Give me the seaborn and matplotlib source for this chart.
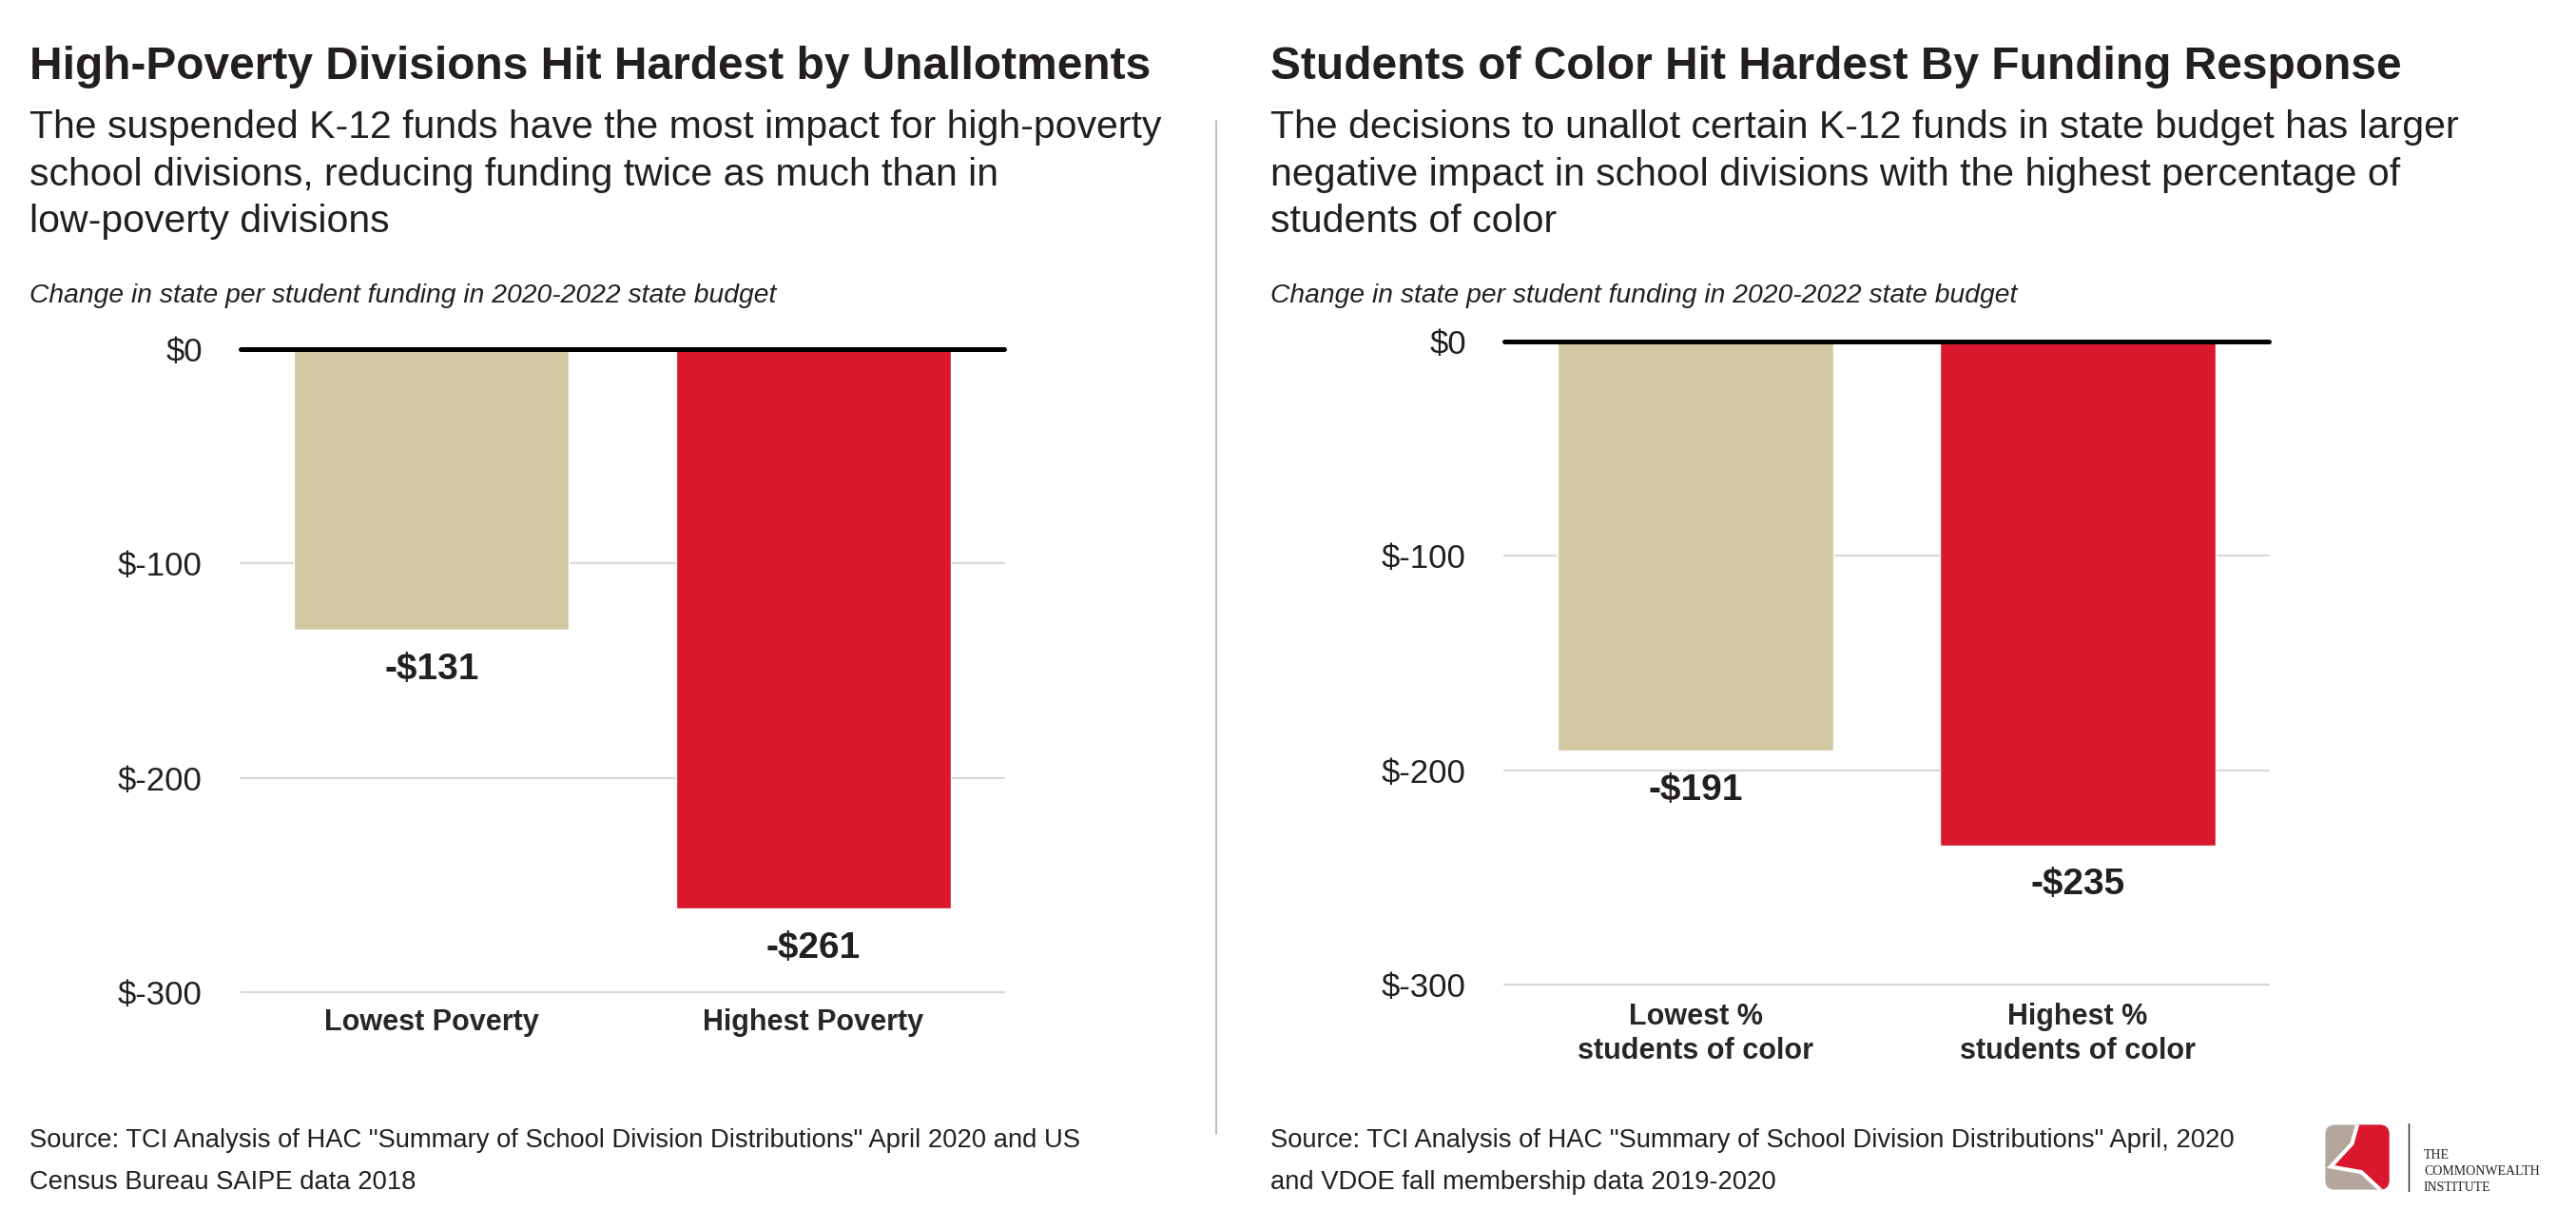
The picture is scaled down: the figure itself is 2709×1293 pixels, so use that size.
import matplotlib
matplotlib.use("Agg")
import matplotlib.pyplot as plt
from matplotlib import font_manager
from matplotlib.ticker import FuncFormatter
from matplotlib.patches import FancyBboxPatch, Polygon
import seaborn as sns

# data
poverty_cats = ["Lowest Poverty", "Highest Poverty"]
poverty_vals = [-131, -261]
color_cats = ["Lowest %\nstudents of color", "Highest %\nstudents of color"]
color_vals = [-191, -235]
y_ticks = [0, -100, -200, -300]

bar_colors = ["#D1C7A1", "#D9182D"]

sns.set_theme(style="white")
names = {f.name for f in font_manager.fontManager.ttflist}
narrow = "Liberation Sans Narrow" if "Liberation Sans Narrow" in names else "Liberation Sans"
plt.rcParams["font.family"] = [narrow, "DejaVu Sans"]
plt.rcParams["text.color"] = "#231f20"

W, H = 2709, 1293
fig = plt.figure(figsize=(W / 100, H / 100), dpi=100)


def fx(px):
    return px / W


def fy(py):
    return 1 - py / H


def draw_panel(rect, cats, vals, title, subtitle, source, x_text, label_pad):
    ax = fig.add_axes(rect)
    sns.barplot(x=cats, y=vals, hue=cats, palette=bar_colors, width=0.72,
                saturation=1, legend=False, ax=ax, zorder=2)
    ax.set_ylim(-300, 0)
    ax.set_xlim(-0.5, 1.5)
    ax.set_yticks(y_ticks)
    ax.yaxis.set_major_formatter(FuncFormatter(lambda v, p: f"${int(round(v))}"))
    ax.grid(axis="y", color="#d9d9d9", lw=1.6, zorder=0)
    for gl in ax.get_ygridlines():
        gl.set_clip_on(False)
    ax.axhline(0, color="black", lw=3.6, zorder=3, clip_on=False)
    sns.despine(ax=ax, left=True, bottom=True)
    ax.tick_params(axis="y", length=0, pad=29, labelsize=25, labelcolor="#231f20")
    ax.tick_params(axis="x", length=0, pad=label_pad, labelsize=22)
    for t in ax.get_xticklabels():
        t.set_fontweight("bold")
        t.set_linespacing(1.25)
    ax.set_xlabel("")
    ax.set_ylabel("")
    for cont in ax.containers:
        ax.bar_label(cont, labels=[f"-${abs(b.get_height()):.0f}" for b in cont],
                     padding=17, fontsize=28, fontweight="bold", color="#231f20")
    fig.text(fx(x_text), fy(83), title, fontsize=34.5, fontweight="bold", va="baseline")
    fig.text(fx(x_text), fy(244), subtitle, fontsize=29.5, va="baseline", linespacing=1.38)
    fig.text(fx(x_text), fy(318), "Change in state per student funding in 2020-2022 state budget",
             fontsize=20.3, style="italic", va="baseline")
    fig.text(fx(x_text), fy(1250), source, fontsize=19.7, va="baseline", linespacing=1.9)
    return ax


draw_panel([fx(253), fy(1043), fx(803), 676 / H], poverty_cats, poverty_vals,
           "High-Poverty Divisions Hit Hardest by Unallotments",
           "The suspended K-12 funds have the most impact for high-poverty\n"
           "school divisions, reducing funding twice as much than in\n"
           "low-poverty divisions",
           "Source: TCI Analysis of HAC \"Summary of School Division Distributions\" April 2020 and US\n"
           "Census Bureau SAIPE data 2018",
           31, 12)

draw_panel([fx(1582), fy(1035), fx(804), 676 / H], color_cats, color_vals,
           "Students of Color Hit Hardest By Funding Response",
           "The decisions to unallot certain K-12 funds in state budget has larger\n"
           "negative impact in school divisions with the highest percentage of\n"
           "students of color",
           "Source: TCI Analysis of HAC \"Summary of School Division Distributions\" April, 2020\n"
           "and VDOE fall membership data 2019-2020",
           1336, 14)

# divider between panels
fig.add_artist(plt.Line2D([fx(1279), fx(1279)], [fy(127), fy(1192)],
                          color="#b0b0b0", lw=1.2))

# logo
lax = fig.add_axes([fx(2444), fy(1252), fx(70), 71 / H])
lax.set_xlim(0, 1)
lax.set_ylim(0, 1)
lax.axis("off")
box = FancyBboxPatch((0.02, 0.02), 0.96, 0.96, boxstyle="round,pad=0,rounding_size=0.14",
                     fc="#B2A69D", ec="none")
lax.add_patch(box)
red = Polygon([(0.52, 1.05), (1.05, 1.05), (1.05, -0.05), (0.92, -0.05), (0.56, 0.28),
               (0.10, 0.36), (0.42, 0.70)], closed=True, fc="#D9182D", ec="white", lw=3)
lax.add_patch(red)
red.set_clip_path(box)
fig.add_artist(plt.Line2D([fx(2533), fx(2533)], [fy(1181), fy(1252)], color="#231f20", lw=1))
for i, word in enumerate(["THE", "COMMONWEALTH", "INSTITUTE"]):
    fig.text(fx(2549), fy(1218 + i * 17), word, fontsize=10, family="Liberation Serif",
             va="baseline", color="#231f20")

fig.savefig("out.png", dpi=100)
